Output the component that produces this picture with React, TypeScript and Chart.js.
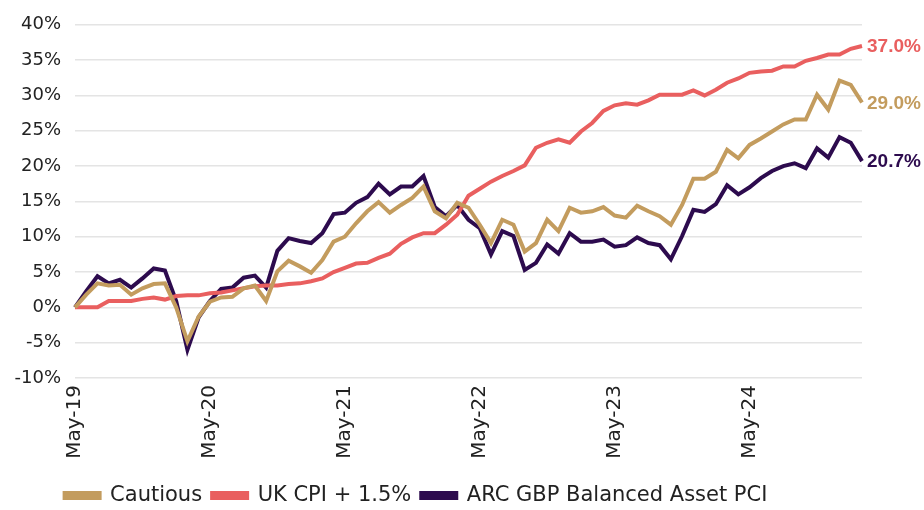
import React, { useEffect, useRef } from "react";
import { Chart, registerables } from "chart.js";

Chart.register(...registerables);

const MONTHS = ["Jan", "Feb", "Mar", "Apr", "May", "Jun", "Jul", "Aug", "Sep", "Oct", "Nov", "Dec"];
// Monthly points from May-19 to Mar-25
const startYear = 2019;
const startMonth = 4;
const pointCount = 71;
const categories: string[] = Array.from({ length: pointCount }, (_, i) => {
  const m = (startMonth + i) % 12;
  const y = startYear + Math.floor((startMonth + i) / 12);
  return `${MONTHS[m]}-${String(y).slice(2)}`;
});

const cautious = [
  0, 1.8, 3.4, 3.1, 3.2, 1.8, 2.7, 3.3, 3.4, 0.0,
  -4.8, -1.3, 0.8, 1.4, 1.5, 2.7, 3.1, 0.9, 5.1, 6.6,
  5.8, 4.9, 6.7, 9.3, 10.0, 11.9, 13.6, 14.9, 13.4, 14.5,
  15.5, 17.1, 13.6, 12.6, 14.8, 14.1, 11.7, 9.1, 12.4, 11.7,
  7.9, 9.1, 12.4, 10.8, 14.1, 13.4, 13.6, 14.2, 13.0, 12.7,
  14.4, 13.6, 12.9, 11.7, 14.5, 18.2, 18.2, 19.2, 22.3, 21.1,
  23.0, 23.9, 24.9, 25.9, 26.6, 26.6, 30.1, 28.0, 32.1, 31.5,
  29.0,
];

const ukCpi = [
  0, 0, 0, 0.9, 0.9, 0.9, 1.2, 1.4, 1.1, 1.6,
  1.7, 1.7, 2.0, 2.1, 2.4, 2.7, 3.0, 3.1, 3.1, 3.3,
  3.4, 3.7, 4.1, 5.0, 5.6, 6.2, 6.3, 7.0, 7.6, 9.0,
  9.9, 10.5, 10.5, 11.7, 13.1, 15.8, 16.8, 17.8, 18.6, 19.3,
  20.1, 22.6, 23.3, 23.8, 23.3, 24.9, 26.1, 27.8, 28.6, 28.9,
  28.7, 29.3, 30.1, 30.1, 30.1, 30.7, 30.0, 30.8, 31.8, 32.4,
  33.2, 33.4, 33.5, 34.1, 34.1, 34.9, 35.3, 35.8, 35.8, 36.6,
  37.0,
];

const arcBalanced = [
  0, 2.3, 4.4, 3.4, 3.9, 2.8, 4.1, 5.5, 5.2, 0.9,
  -6.0, -1.4, 0.9, 2.6, 2.8, 4.2, 4.5, 2.8, 8.0, 9.8,
  9.4, 9.1, 10.5, 13.2, 13.4, 14.8, 15.6, 17.5, 16.0, 17.1,
  17.1, 18.6, 14.2, 12.9, 14.5, 12.4, 11.2, 7.5, 10.8, 10.1,
  5.3, 6.3, 8.9, 7.6, 10.5, 9.3, 9.3, 9.6, 8.6, 8.8,
  9.9, 9.1, 8.8, 6.8, 10.1, 13.8, 13.5, 14.6, 17.3, 16.0,
  17.0, 18.3, 19.3, 20.0, 20.4, 19.7, 22.5, 21.2, 24.1, 23.3,
  20.7,
];

const seriesNames = ["Cautious", "UK CPI + 1.5%", "ARC GBP Balanced Asset PCI"];
const seriesColors = ["#C39C5E", "#E95F5F", "#2D0B4E"];
const yMin = -10;
const yMax = 40;
const yStep = 5;

const FONT = "'DejaVu Sans', sans-serif";

const endLabels = {
  id: "endLabels",
  afterDatasetsDraw(chart: any) {
    const ctx = chart.ctx;
    ctx.save();
    ctx.font = "bold 19px 'Liberation Sans', Arial, sans-serif";
    ctx.textBaseline = "middle";
    ctx.textAlign = "left";
    chart.data.datasets.forEach((ds: any, i: number) => {
      const meta = chart.getDatasetMeta(i);
      const pt = meta.data[meta.data.length - 1];
      const v = ds.data[ds.data.length - 1];
      ctx.fillStyle = ds.borderColor;
      ctx.fillText(`${v.toFixed(1)}%`, pt.x + 5, pt.y + 1);
    });
    ctx.restore();
  },
};

const LEGEND_DX = -20;
const LEGEND_DY = 6;

const shiftLegend = {
  id: "shiftLegend",
  beforeDraw(chart: any) {
    const lg = chart.legend;
    if (lg && !lg._shifted) {
      lg.left += LEGEND_DX;
      lg.right += LEGEND_DX;
      lg.top += LEGEND_DY;
      lg.bottom += LEGEND_DY;
      lg._shifted = true;
    }
  },
  afterUpdate(chart: any) {
    if (chart.legend) chart.legend._shifted = false;
  },
};

export default function App() {
  const canvasRef = useRef<HTMLCanvasElement | null>(null);

  useEffect(() => {
    document.body.style.margin = "0";
    const canvas = canvasRef.current;
    if (!canvas) return;
    const data = [cautious, ukCpi, arcBalanced];
    const chart = new Chart(canvas, {
      type: "line",
      data: {
        labels: categories,
        datasets: data.map((d, i) => ({
          label: seriesNames[i],
          data: d,
          borderColor: seriesColors[i],
          backgroundColor: seriesColors[i],
          borderWidth: 4,
          pointRadius: 0,
          tension: 0,
          fill: false,
        })),
      },
      options: {
        animation: false,
        responsive: false,
        maintainAspectRatio: false,
        layout: { padding: { top: 14, left: 10, right: 62, bottom: 0 } },
        plugins: {
          legend: {
            position: "bottom",
            labels: {
              color: "#222",
              font: { family: FONT, size: 21 },
              boxWidth: 35,
              boxHeight: 5,
              padding: 10,
            },
          },
          tooltip: { enabled: false },
        },
        scales: {
          x: {
            type: "category",
            grid: { display: false, drawTicks: false },
            border: { display: false },
            ticks: {
              autoSkip: false,
              maxRotation: 90,
              minRotation: 90,
              padding: 7,
              color: "#222",
              font: { family: FONT, size: 20 },
              callback: (_v: any, idx: number) => (idx % 12 === 0 ? categories[idx] : ""),
            },
            afterFit: (scale: any) => {
              scale.height = 91;
            },
          },
          y: {
            min: yMin,
            max: yMax,
            grid: { color: "#E4E4E4", lineWidth: 1.5, drawTicks: false },
            border: { display: false },
            ticks: {
              stepSize: yStep,
              padding: 14,
              color: "#222",
              font: { family: FONT, size: 18 },
              callback: (v: any) => `${v}%`,
            },
            afterFit: (scale: any) => {
              scale.width = 65;
            },
          },
        },
      },
      plugins: [endLabels, shiftLegend],
    });
    return () => chart.destroy();
  }, []);

  return (
    <div style={{ width: 924, height: 510 }}>
      <canvas ref={canvasRef} width={924} height={510} style={{ display: "block" }} />
    </div>
  );
}
